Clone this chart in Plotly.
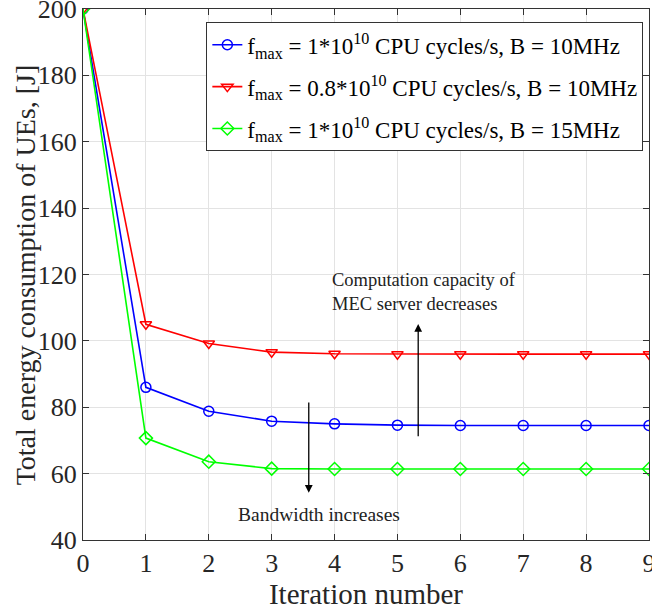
import plotly.graph_objects as go

iterations = [0, 1, 2, 3, 4, 5, 6, 7, 8, 9]
blue_vals = [200, 86.0, 78.8, 75.8, 75.0, 74.6, 74.5, 74.5, 74.5, 74.5]
red_vals = [200, 105.0, 99.2, 96.6, 96.1, 96.0, 96.0, 96.0, 96.0, 96.0]
green_vals = [200, 70.7, 63.6, 61.5, 61.4, 61.4, 61.4, 61.4, 61.4, 61.4]
names = [
    "f<sub>max</sub> = 1*10<sup>10</sup> CPU cycles/s, B = 10MHz",
    "f<sub>max</sub> = 0.8*10<sup>10</sup> CPU cycles/s, B = 10MHz",
    "f<sub>max</sub> = 1*10<sup>10</sup> CPU cycles/s, B = 15MHz",
]
x_ticks = [0, 1, 2, 3, 4, 5, 6, 7, 8, 9]
y_ticks = [40, 60, 80, 100, 120, 140, 160, 180, 200]
y_title = "Total energy consumption of UEs, [J]"
x_title = "Iteration number"

FONT = "Liberation Serif"

fig = go.Figure()
series = [
    (blue_vals, "#0000ff", "circle-open", names[0]),
    (red_vals, "#ff0000", "triangle-down-open", names[1]),
    (green_vals, "#00ff00", "diamond-open", names[2]),
]
for i, (vals, color, sym, nm) in enumerate(series):
    fig.add_trace(go.Scatter(
        x=iterations, y=vals, mode="lines+markers", name=nm, legendgroup=f"g{i}",
        line=dict(color=color, width=1.6),
        marker=dict(symbol=sym, size=10, color=color, line=dict(color=color, width=1.5)),
    ))

fig.add_annotation(x=3.59, y=54.2, ax=3.59, ay=81.9, xref="x", yref="y", axref="x", ayref="y",
                   showarrow=True, arrowhead=2, arrowsize=1.2, arrowwidth=1.3, arrowcolor="black", text="")
fig.add_annotation(x=5.33, y=105.1, ax=5.33, ay=70.8, xref="x", yref="y", axref="x", ayref="y",
                   showarrow=True, arrowhead=2, arrowsize=1.2, arrowwidth=1.3, arrowcolor="black", text="")
fig.add_annotation(x=5.42, y=114.8, xref="x", yref="y", showarrow=False,
                   text="Computation capacity of<br>MEC server decreases", align="left",
                   xanchor="center", yanchor="middle",
                   font=dict(family=FONT, size=18.5, color="#222"))
fig.add_annotation(x=3.75, y=47.8, xref="x", yref="y", showarrow=False,
                   text="Bandwidth increases", xanchor="center", yanchor="middle",
                   font=dict(family=FONT, size=19.5, color="#222"))
# y-axis title placed as rotated text
fig.add_annotation(x=-0.101, y=0.5, xref="paper", yref="paper", showarrow=False,
                   text=y_title, textangle=-90, xanchor="center", yanchor="middle",
                   font=dict(family=FONT, size=28, color="#262626"))

axis_common = dict(
    showgrid=True, gridcolor="#e3e3e3", gridwidth=1,
    showline=True, linecolor="#333", linewidth=1.2, mirror="ticks",
    ticks="inside", ticklen=6, tickcolor="#333",
    tickfont=dict(family=FONT, size=26, color="#262626"),
    ticklabeloverflow="allow", automargin=False,
    zeroline=False,
)
fig.update_xaxes(range=[0, 9], tickvals=x_ticks,
                 title=dict(text=x_title, font=dict(family=FONT, size=29, color="#262626"), standoff=4),
                 **axis_common)
fig.update_yaxes(range=[40, 200], tickvals=y_ticks, **axis_common)

fig.update_layout(
    width=652, height=612,
    margin=dict(l=83, r=3, t=9, b=72),
    plot_bgcolor="white", paper_bgcolor="white",
    font=dict(family=FONT, color="#000"),
    legend=dict(x=0.99, y=0.975, xanchor="right", yanchor="top",
                bgcolor="white", bordercolor="#333", borderwidth=1,
                font=dict(family=FONT, size=23, color="#000"),
                tracegroupgap=9, itemwidth=30),
    showlegend=True,
)
fig.write_html("out.html")
